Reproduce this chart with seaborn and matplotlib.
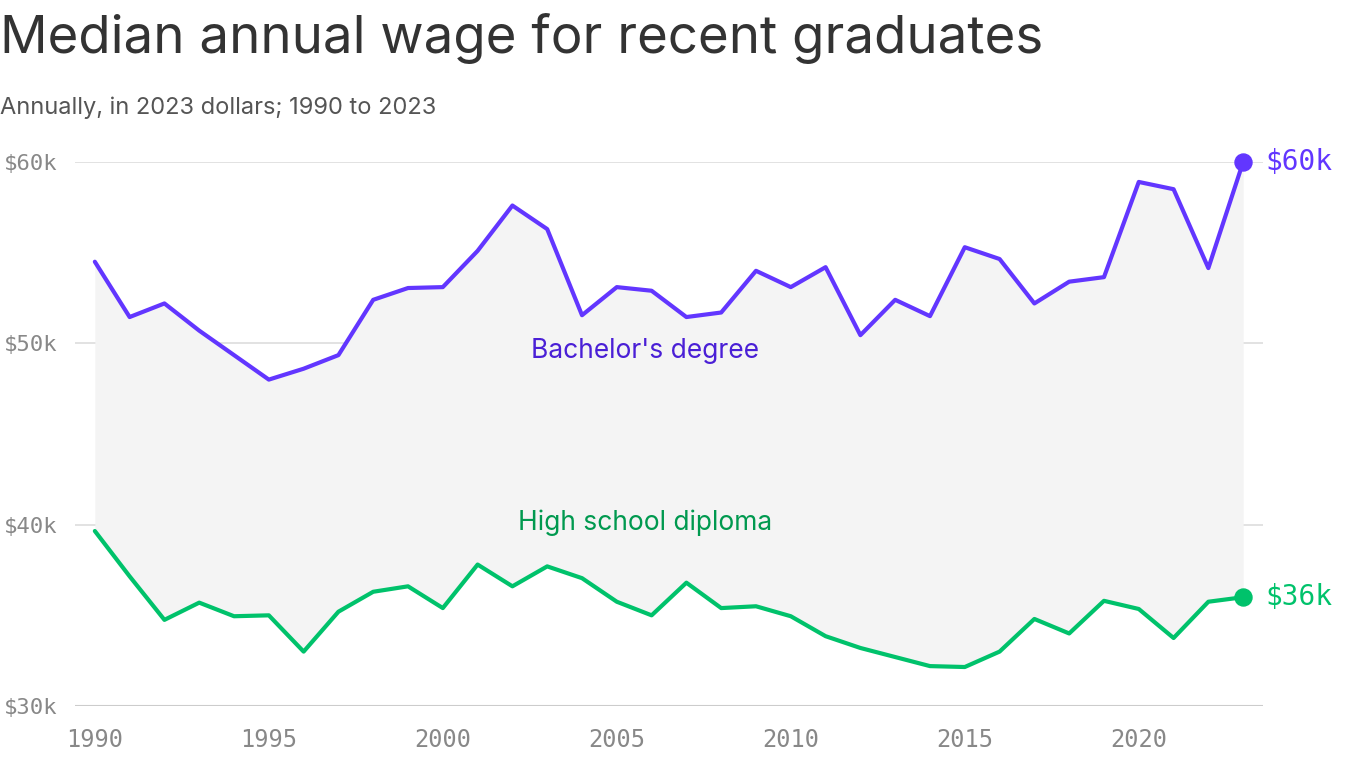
import matplotlib
matplotlib.use("Agg")
import matplotlib.pyplot as plt
import seaborn as sns
import pandas as pd

years = list(range(1990, 2024))
bachelor = [54.5,51.45,52.2,50.7,49.35,48.0,48.6,49.35,52.4,53.05,53.1,55.1,57.6,56.3,51.55,53.1,52.9,51.45,51.7,54.0,53.1,54.2,50.45,52.4,51.5,55.3,54.65,52.2,53.4,53.65,58.9,58.5,54.15,60.0]
highschool = [39.65,37.15,34.75,35.7,34.95,35.0,33.0,35.2,36.3,36.6,35.4,37.8,36.6,37.7,37.05,35.75,35.0,36.8,35.4,35.5,34.95,33.85,33.2,32.7,32.2,32.15,33.0,34.8,34.0,35.8,35.35,33.75,35.75,36.0]
yticks = [30, 40, 50, 60]
xticks = [1990, 1995, 2000, 2005, 2010, 2015, 2020]

df = pd.DataFrame({"year": years, "Bachelor's degree": bachelor, "High school diploma": highschool})
PUR, PUR_T = "#6236ff", "#4a1fd6"
GRN, GRN_T = "#00c26b", "#00994f"

sns.set_theme(style="white")
plt.rcParams['font.family'] = ['Inter', 'DejaVu Sans']
fig = plt.figure(figsize=(13.66, 7.68), dpi=100)
ax = fig.add_axes([75/1366, 1-706/768, (1263-75)/1366, 544/768])
ax.fill_between(df["year"], df["High school diploma"], df["Bachelor's degree"], color="#f4f4f4", lw=0, zorder=1)
sns.lineplot(data=df, x="year", y="Bachelor's degree", color=PUR, lw=3, ax=ax, zorder=3)
sns.lineplot(data=df, x="year", y="High school diploma", color=GRN, lw=3, ax=ax, zorder=3)
ax.scatter([years[-1]], [bachelor[-1]], s=150, color=PUR, zorder=4, clip_on=False)
ax.scatter([years[-1]], [highschool[-1]], s=150, color=GRN, zorder=4, clip_on=False)
ax.set_xlim(1989.43, 2023.57)
ax.set_ylim(30, 60)
for v in yticks[1:]:
    ax.axhline(v, color="#dddddd", lw=1.2, zorder=0)
ax.axhline(30, color="#cccccc", lw=1.5, zorder=2)
for s in ax.spines.values():
    s.set_visible(False)
ax.set_yticks(yticks)
ax.set_yticklabels([f"${v}k" for v in yticks], family="DejaVu Sans Mono", fontsize=16, color="#888888", ha="left")
ax.tick_params(axis="y", length=0, pad=0)
for lab in ax.get_yticklabels():
    lab.set_x(-71/1188)
ax.set_xticks(xticks)
ax.set_xticklabels([str(x) for x in xticks], family="DejaVu Sans Mono", fontsize=17, color="#888888")
ax.tick_params(axis="x", length=8, color="#cccccc", pad=8)
ax.set_xlabel(""); ax.set_ylabel("")
ax.annotate("$60k", (2023, 60), xytext=(16, 0), textcoords="offset points", color=PUR, fontsize=20, family="DejaVu Sans Mono", va="center", ha="left", annotation_clip=False)
ax.annotate("$36k", (2023, 36), xytext=(16, 0), textcoords="offset points", color=GRN, fontsize=20, family="DejaVu Sans Mono", va="center", ha="left", annotation_clip=False)
ax.text(2005.8, 49.6, "Bachelor's degree", color=PUR_T, fontsize=19, ha="center", va="center")
ax.text(2005.8, 40.1, "High school diploma", color=GRN_T, fontsize=19, ha="center", va="center")
fig.text(0, 1-38/768, "Median annual wage for recent graduates", fontsize=38, color="#333333", va="center", ha="left")
fig.text(0, 1-108/768, "Annually, in 2023 dollars; 1990 to 2023", fontsize=17, color="#555555", va="center", ha="left")
fig.savefig("out.png", dpi=100)
